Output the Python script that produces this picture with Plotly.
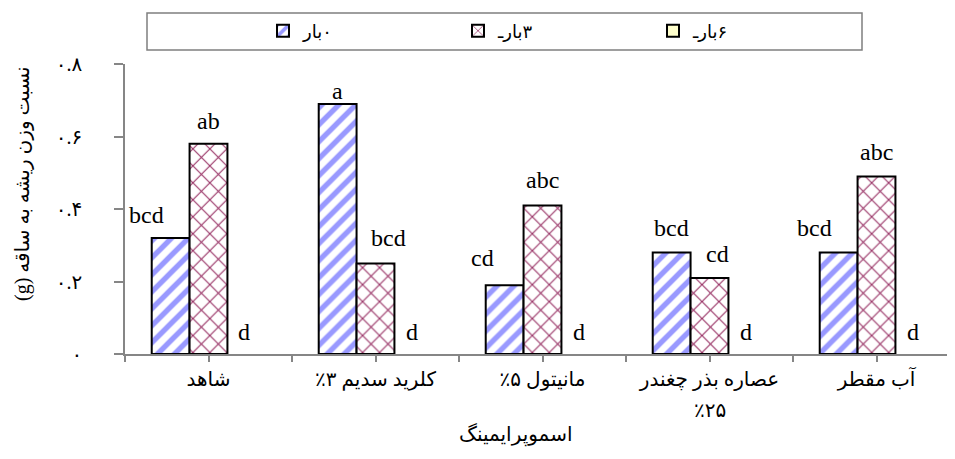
import plotly.graph_objects as go

RLE, PDF = "\u202b", "\u202c"


def rtl(s):
    return RLE + s + PDF


# ---- data ----
categories = ["شاهد", "کلرید سدیم ۳٪", "مانیتول ۵٪", "عصاره بذر چغندر", "آب مقطر"]
category_second_line = ["", "", "", "٪۲۵", ""]
series_names = ["۰بار", "۳بارـ", "۶بارـ"]
values_0bar = [0.32, 0.69, 0.19, 0.28, 0.28]
values_3bar = [0.58, 0.25, 0.41, 0.21, 0.49]
values_6bar = [0.0, 0.0, 0.0, 0.0, 0.0]
letters_0bar = ["bcd", "a", "cd", "bcd", "bcd"]
letters_3bar = ["ab", "bcd", "abc", "cd", "abc"]
letters_6bar = ["d", "d", "d", "d", "d"]
y_tick_values = [0, 0.2, 0.4, 0.6, 0.8]
y_tick_labels = ["۰", "۰.۲", "۰.۴", "۰.۶", "۰.۸"]
x_title = "اسموپرایمینگ"
y_title = "نسبت وزن ریشه به ساقه (g)"

# ---- label placement (pixel nudges, layout only) ----
shift_x_0 = [-24, 0, -22, 0, -24]
shift_y_0 = [23, 13, 27, 25, 25]
shift_x_3 = [0, 13, 0, 8, 0]
shift_y_3 = [23, 25, 25, 24, 24]
shift_x_6 = [-2, -1, -1, -1, -1]
shift_y_6 = [22, 22, 22, 22, 22]

# ---- geometry (window pixel coords; page body has an 8px margin) ----
OFF = 8
WIN_W, WIN_H = 955, 459
W, H = WIN_W - OFF, WIN_H - OFF
PX_L, PX_R, PX_T, PX_B = 125, 955, 64, 354  # plot area in window coords
L, T = PX_L - OFF, PX_T - OFF
R = W - (PX_R - OFF)
B = H - (PX_B - OFF)
plot_w = PX_R - PX_L
plot_h = PX_B - PX_T


def pxx(wx):
    return (wx - PX_L) / plot_w


def pxy(wy):
    return (PX_B - wy) / plot_h


cat_px = 167.0
x_range = [-0.5, -0.5 + plot_w / cat_px]
bargap = 0.32
n_series = 3
bar_w = (1 - bargap) / n_series

serif = "Liberation Serif, Times New Roman, DejaVu Sans, serif"

x_idx = list(range(len(categories)))

fig = go.Figure()
fig.add_trace(go.Bar(
    x=x_idx, y=values_0bar, name=rtl(series_names[0]),
    marker=dict(color="white", line=dict(color="black", width=2),
                pattern=dict(shape="/", fgcolor="#9999FF", bgcolor="white", size=12, solidity=0.45)),
    hoverinfo="skip",
))
fig.add_trace(go.Bar(
    x=x_idx, y=values_3bar, name=rtl(series_names[1]),
    marker=dict(color="white", line=dict(color="black", width=2),
                pattern=dict(shape="x", fgcolor="#993366", bgcolor="white", size=12, solidity=0.18)),
    hoverinfo="skip",
))
# zero-height series (no outline so nothing is stroked at the baseline)
fig.add_trace(go.Bar(
    x=x_idx, y=values_6bar, name=rtl(series_names[2]), showlegend=False,
    marker=dict(color="#FFFFCC", line=dict(color="black", width=0)),
    hoverinfo="skip",
))
# legend entry for the zero series (point lies outside the visible range of a hidden overlay axis)
fig.add_trace(go.Bar(
    x=[10], y=[values_6bar[0]], name=rtl(series_names[2]), xaxis="x2",
    marker=dict(color="#FFFFCC", line=dict(color="black", width=2)),
    hoverinfo="skip",
))

# letter annotations
all_values = [values_0bar, values_3bar, values_6bar]
all_letters = [letters_0bar, letters_3bar, letters_6bar]
all_sx = [shift_x_0, shift_x_3, shift_x_6]
all_sy = [shift_y_0, shift_y_3, shift_y_6]
for s, (vals, letters, sxs, sys_) in enumerate(zip(all_values, all_letters, all_sx, all_sy)):
    offset = (s - (n_series - 1) / 2) * bar_w
    for i, (v, t) in enumerate(zip(vals, letters)):
        fig.add_annotation(
            x=i + offset, y=v, xref="x", yref="y", text=t, showarrow=False,
            xanchor="center", yanchor="middle", xshift=sxs[i], yshift=sys_[i],
            font=dict(family=serif, size=24, color="black"),
        )

# x ticks at boundaries and centers
tickvals, ticktext = [], []
for i, c in enumerate(categories):
    tickvals.append(i - 0.5)
    ticktext.append("")
    tickvals.append(i)
    ticktext.append(rtl(c))
tickvals.append(len(categories) - 0.5)
ticktext.append("")

# second line of a category label
for i, extra in enumerate(category_second_line):
    if extra:
        fig.add_annotation(
            x=i, y=pxy(410), xref="x", yref="paper", text=extra, showarrow=False,
            xanchor="center", yanchor="middle",
            font=dict(family=serif, size=20, color="black"),
        )

axis_color = "#868686"

fig.update_layout(
    template="none",
    width=W, height=H,
    margin=dict(l=L, r=R, t=T, b=B, pad=0, autoexpand=False),
    paper_bgcolor="white", plot_bgcolor="white",
    barmode="group", bargap=bargap, bargroupgap=0,
    font=dict(family=serif, size=16, color="black"),
    showlegend=True,
    legend=dict(
        orientation="h", x=pxx(263), xanchor="left",
        y=pxy(31), yanchor="middle",
        bgcolor="rgba(0,0,0,0)", borderwidth=0,
        font=dict(family=serif, size=18, color="black"),
        entrywidth=150, entrywidthmode="pixels",
        traceorder="normal",
    ),
    xaxis=dict(
        range=x_range, tickmode="array", tickvals=tickvals, ticktext=ticktext,
        showline=True, linecolor=axis_color, linewidth=1.5,
        ticks="outside", ticklen=6, tickcolor=axis_color, tickwidth=1.5,
        showgrid=False, zeroline=False, tickangle=0, automargin=False,
        tickfont=dict(family=serif, size=20, color="black"),
        ticklabelstandoff=0,
        fixedrange=True,
    ),
    xaxis2=dict(overlaying="x", range=[0, 1], visible=False, fixedrange=True),
    yaxis=dict(
        range=[0, 0.8], tickmode="array", tickvals=y_tick_values, ticktext=y_tick_labels,
        showline=True, linecolor=axis_color, linewidth=1.5,
        ticks="outside", ticklen=9, tickcolor=axis_color, tickwidth=1.5,
        showgrid=False, zeroline=False, automargin=False,
        tickfont=dict(family=serif, size=20, color="black"),
        ticklabelstandoff=28,
        fixedrange=True,
    ),
)

# legend frame
fig.add_shape(
    type="rect", xref="paper", yref="paper",
    x0=pxx(147), x1=pxx(862), y0=pxy(50), y1=pxy(13),
    line=dict(color="#7F7F7F", width=1.5), fillcolor="rgba(0,0,0,0)", layer="below",
)

# axis titles
fig.add_annotation(
    x=pxx(515), y=pxy(434), xref="paper", yref="paper",
    text=rtl(x_title), showarrow=False, xanchor="center", yanchor="middle",
    font=dict(family=serif, size=20, color="black"),
)
fig.add_annotation(
    x=pxx(22), y=pxy(184), xref="paper", yref="paper",
    text=rtl(y_title), showarrow=False, textangle=-90, xanchor="center", yanchor="middle",
    font=dict(family=serif, size=20, color="black"),
)

fig.write_html("out.html", config={"displayModeBar": False})
